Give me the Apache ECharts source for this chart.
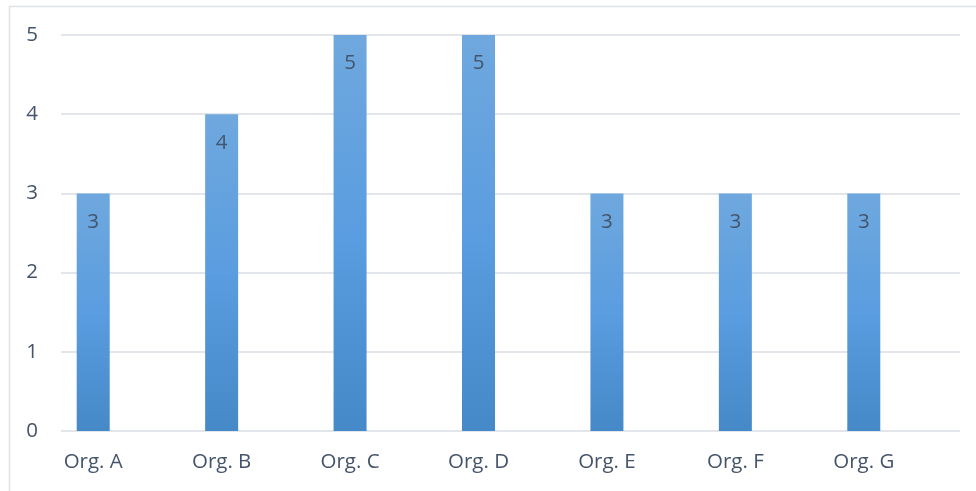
<!DOCTYPE html>
<html><head><meta charset="utf-8">
<script src="https://cdn.jsdelivr.net/npm/echarts@6/dist/echarts.min.js"></script>
<style>html,body{margin:0;padding:0;background:#fff}#c{width:976px;height:491px}</style>
</head><body><div id="c"></div>
<script>
const categories = ['Org. A','Org. B','Org. C','Org. D','Org. E','Org. F','Org. G'];
const values = [3,4,5,5,3,3,3];
const yTicks = {min:0, max:5, interval:1};
const textColor = '#44546a';
const font = 'Open Sans';
const chart = echarts.init(document.getElementById('c'));
chart.setOption({
  animation:false,
  graphic:[{type:'rect',shape:{x:9.5,y:6.5,width:1000,height:600},style:{fill:'none',stroke:'#dfe2e6',lineWidth:1.5},z:-1}],
  grid:[
    {left:61,right:16,top:35,bottom:60},
    {left:29,right:48,top:35,bottom:60}
  ],
  xAxis:[
    {gridIndex:0,type:'value',show:false,min:0,max:1},
    {gridIndex:1,type:'category',data:categories,axisLine:{show:false},axisTick:{show:false},
     axisLabel:{color:textColor,fontFamily:font,fontSize:20.5,margin:21}}
  ],
  yAxis:[
    {gridIndex:0,type:'value',min:yTicks.min,max:yTicks.max,interval:yTicks.interval,
     axisLine:{show:false},axisTick:{show:false},
     splitLine:{lineStyle:{color:'#d9dde3',width:1.5}},
     axisLabel:{color:textColor,fontFamily:font,fontSize:20.5,margin:23}},
    {gridIndex:1,type:'value',min:yTicks.min,max:yTicks.max,interval:yTicks.interval,show:false,splitLine:{show:false}}
  ],
  series:[{
    type:'bar',xAxisIndex:1,yAxisIndex:1,data:values,barWidth:33,
    itemStyle:{color:new echarts.graphic.LinearGradient(0,0,0,1,[
      {offset:0,color:'#6fa8de'},{offset:0.5,color:'#5a9de0'},{offset:1,color:'#4689c8'}])},
    label:{show:true,position:'insideTop',distance:18,color:textColor,fontFamily:font,fontSize:20.5}
  }]
});
</script></body></html>
